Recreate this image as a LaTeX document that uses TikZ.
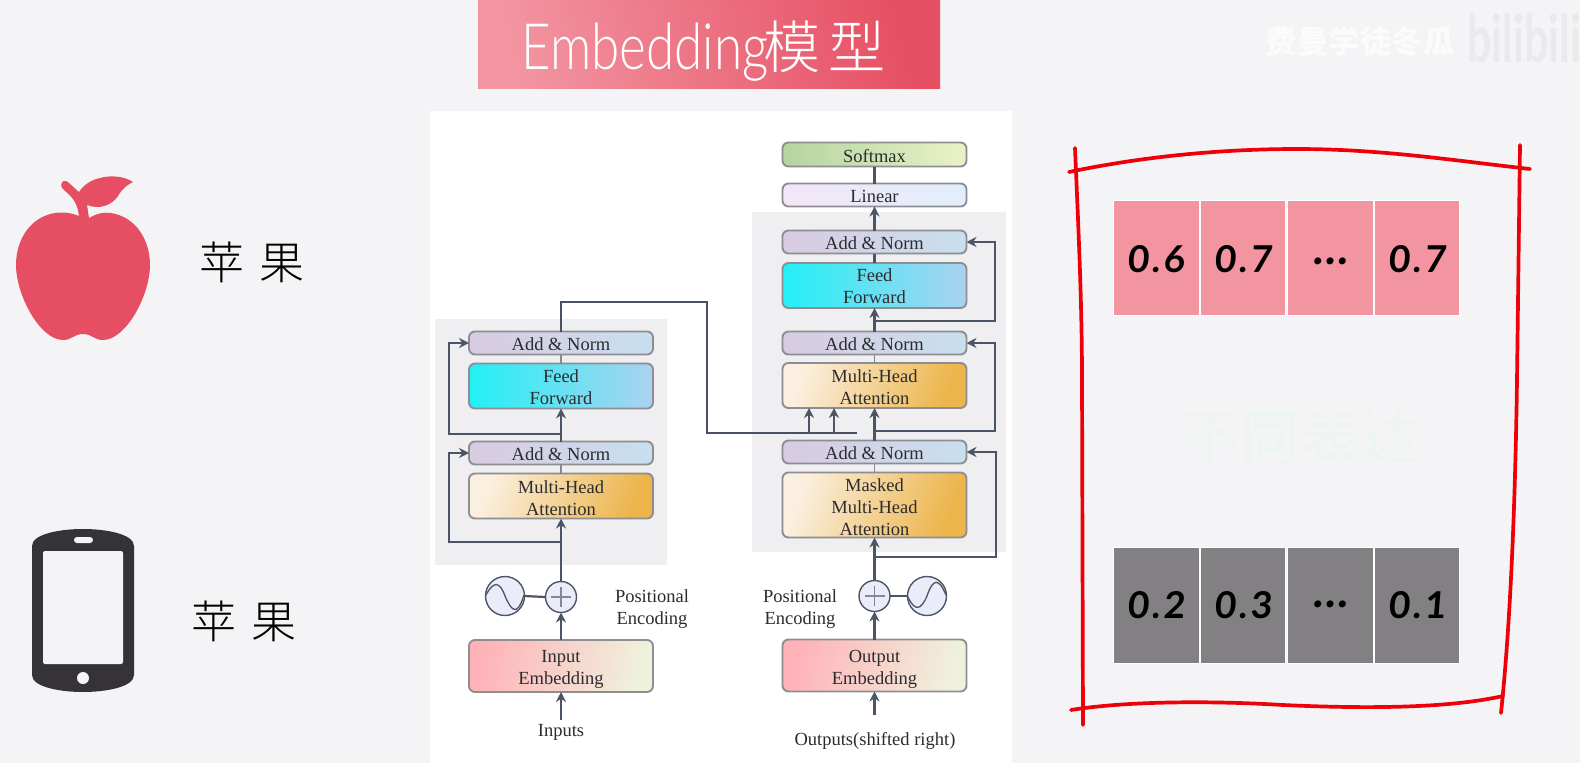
\documentclass[tikz,border=0pt]{standalone}
\usepackage{fontspec}
\usetikzlibrary{arrows.meta,calc}
\setmainfont{Liberation Serif}
\newfontfamily\cjk{Noto Sans CJK SC}
\newfontfamily\cjklight{Noto Sans CJK SC}[UprightFont=* Light]
\newfontfamily\ttlfont{Lato}[UprightFont=* Light,FakeStretch=0.8]
\newfontfamily\wmfont{Lato}[FakeStretch=0.65]
\newfontfamily\hand{Lato}[FakeSlant=0.08,LetterSpace=8]
\definecolor{bg}{HTML}{F4F3F6}
\definecolor{panel}{HTML}{EFEFF1}
\definecolor{edge}{HTML}{8E8E92}
\definecolor{slate}{HTML}{4C5566}
\definecolor{ink}{HTML}{2C2C30}
\definecolor{redline}{HTML}{EE0008}
\definecolor{applered}{HTML}{E64F63}
\definecolor{phone}{HTML}{353336}
\definecolor{pinkcell}{HTML}{F295A1}
\definecolor{greycell}{HTML}{828083}
\definecolor{ANa}{HTML}{D9CBE2}\definecolor{ANb}{HTML}{C8DFEE}
\definecolor{FFa}{HTML}{22F0F5}\definecolor{FFb}{HTML}{A8E4F3}\definecolor{FFc}{HTML}{ABD2F0}
\definecolor{ATa}{HTML}{FBF0E0}\definecolor{ATm}{HTML}{F6DFB8}\definecolor{ATb}{HTML}{ECB44A}
\definecolor{EMa}{HTML}{FFB3B8}\definecolor{EMb}{HTML}{EFF1DC}
\definecolor{RDf}{HTML}{EBECFA}
\definecolor{SMa}{HTML}{B4D4A0}\definecolor{SMb}{HTML}{E9F2C7}
\definecolor{LNa}{HTML}{F3E6F8}\definecolor{LNb}{HTML}{E1EEFB}
\definecolor{TTm}{HTML}{ED7F90}
\definecolor{wmgreen}{HTML}{EDF5EF}
\tikzset{
  x=1pt,y=-1pt,
  box/.style={draw=edge,line width=1.9pt,rounded corners=6pt,minimum width=184pt,inner sep=0pt,outer sep=0pt,
    align=center,text=ink,font=\fontsize{18.5}{22}\selectfont},
  an/.style={box,minimum height=23pt,left color=ANa,right color=ANb},
  ff/.style={box,minimum height=45pt,left color=FFa,middle color=FFb,right color=FFc},
  att/.style={box,left color=ATa,middle color=ATm,right color=ATb,shading angle=70},
  emb/.style={box,minimum height=52pt,left color=EMa,right color=EMb,shading angle=75},
  lab/.style={text=ink,align=center,inner sep=0pt,font=\fontsize{18.5}{22}\selectfont},
  arr/.style={draw=slate,line width=2.2pt,-{Stealth[length=10pt,width=10pt]}},
  plainln/.style={draw=slate,line width=2.2pt},
  thinln/.style={draw=slate!70!white,line width=1.2pt},
  linkln/.style={draw=slate!95!black,line width=1.4pt},
  rnd/.style={circle,draw=slate,line width=1.4pt,fill=RDf,inner sep=0pt,outer sep=0pt},
  red/.style={draw=redline,line width=3.7pt,line cap=round},
  cell/.style={minimum height=115.5pt,draw=white,line width=1pt,inner sep=0pt,outer sep=0pt,text=black,
    font=\hand\bfseries\fontsize{37}{37}\selectfont},
  cjkbig/.style={inner sep=0pt,text=black,font=\cjklight\fontsize{45}{45}\selectfont},
}
\newcommand\digbox[2]{\raisebox{-#1pt}[0pt][0pt]{#2}}
\newcommand\elldots{\fontsize{46}{46}\selectfont …}
\newcommand\tp[1]{\rule{0pt}{#1pt}}
\begin{document}
\begin{tikzpicture}
\useasboundingbox (0,0) rectangle (1580,763);
\fill[bg] (0,0) rectangle (1580,763);
% title
\node[minimum width=462pt,minimum height=88pt,inner sep=0pt,left color=pinkcell,middle color=TTm,right color=applered,shading angle=105,anchor=north west] (title) at (478,0) {};
\node[anchor=base west,inner sep=0pt,text=white,font=\ttlfont\fontsize{64}{64}\selectfont] (ttl1) at (521,69) {Embedding};
\node[anchor=base west,inner sep=0pt,text=white,font=\cjklight\fontsize{57}{57}\selectfont] (ttl2) at (763,68) {模\hspace{8pt}型};
% watermarks
\node[inner sep=0pt,text=white!70!bg,font=\cjk\bfseries\fontsize{31.5}{32}\selectfont] (wm1) at (1360,42) {费曼学徒冬瓜};
\node[anchor=west,inner sep=0pt,text=black!4!bg,font=\wmfont\bfseries\fontsize{66}{66}\selectfont] (wm2) at (1467,38) {bilibili};
\node[inner sep=0pt,text=wmgreen,font=\cjk\fontsize{60}{60}\selectfont] (wm3) at (1300,437) {不同表达};
% apple
\fill[applered] (83,218) .. controls (72,212) and (62,212) .. (55,213)
  .. controls (30,217) and (16,240) .. (16,265)
  .. controls (16,295) and (40,340) .. (63,340)
  .. controls (72,340) and (74,334) .. (83,334)
  .. controls (92,334) and (94,340) .. (103,340)
  .. controls (126,340) and (150,295) .. (150,265)
  .. controls (150,240) and (136,217) .. (111,213)
  .. controls (104,212) and (98,213) .. (89,218)
  -- (87,205) .. controls (100,210) and (112,205) .. (118,196)
  .. controls (122,189) and (127,185) .. (133,182)
  .. controls (124,176) and (110,175) .. (100,178)
  .. controls (90,180) and (83,186) .. (79,192)
  .. controls (74,188) and (70,183) .. (66,181)
  .. controls (62,180) and (60,185) .. (62,188)
  .. controls (70,196) and (78,200) .. (79,218) -- cycle;
\node[cjkbig] (apt) at (252,262) {苹\hspace{15pt}果};
% phone
\fill[phone] (32,546) .. controls (32,534) and (60,529) .. (83,529) .. controls (106,529) and (134,534) .. (134,546)
  -- (134,675) .. controls (134,687) and (106,692) .. (83,692) .. controls (60,692) and (32,687) .. (32,675) -- cycle;
\fill[bg,rounded corners=2pt] (43,551) rectangle (123,664);
\fill[bg,rounded corners=3pt] (74,537) rectangle (93,543);
\fill[bg] (83,678) circle (6);
\node[cjkbig] (pht) at (244,621) {苹\hspace{15pt}果};
% diagram background
\fill[white] (430,111) rectangle (1012,763);
\fill[panel] (435,319) rectangle (667,565);
\fill[panel] (752,212) rectangle (1006,552);
% left column
\node[an] (lan2) at (561,343) {\tp{15}Add \& Norm};
\node[ff] (lff) at (561,386) {\tp{15}Feed\\Forward};
\node[an] (lan1) at (561,453) {\tp{15}Add \& Norm};
\node[att,minimum height=45pt] (lmh) at (561,496) {\tp{17}Multi-Head\\Attention};
\node[emb] (lem) at (561,666) {\tp{19}Input\\Embedding};
\node[rnd,minimum size=31pt] (lpl) at (561,597) {};
\node[rnd,minimum size=39pt] (lsn) at (505,596) {};
\node[lab] (lpe) at (652,609) {Positional\\Encoding};
\node[lab] (lin) at (561,732) {Inputs};
\coordinate (linb) at (561,720);
% right column
\node[box,minimum height=24pt,left color=SMa,right color=SMb] (soft) at (874.5,154.5) {\tp{16}Softmax};
\node[box,minimum height=23pt,left color=LNa,right color=LNb] (lin2) at (874.5,195) {\tp{15}Linear};
\node[an] (ran3) at (874.5,242) {\tp{15}Add \& Norm};
\node[ff] (rff) at (874.5,285.5) {\tp{15}Feed\\Forward};
\node[an] (ran2) at (874.5,343) {\tp{15}Add \& Norm};
\node[att,minimum height=45pt] (rmh) at (874.5,385.5) {\tp{17}Multi-Head\\Attention};
\node[an] (ran1) at (874.5,452) {\tp{15}Add \& Norm};
\node[att,minimum height=65pt] (rmm) at (874.5,505) {\tp{17}Masked\\Multi-Head\\Attention};
\node[emb] (rem) at (874.5,665.5) {\tp{19}Output\\Embedding};
\node[rnd,minimum size=31pt] (rpl) at (874.5,596) {};
\node[rnd,minimum size=39pt] (rsn) at (927,596) {};
\node[lab] (rpe) at (800,609) {Positional\\Encoding};
\node[lab] (rou) at (875,741) {Outputs(shifted right)};
\coordinate (rinb) at (874.5,715);
% plus signs and sines
\draw[thinln] ($(lpl)+(0,-10)$) -- ($(lpl)+(0,10)$) ($(lpl)+(-10,0)$) -- ($(lpl)+(10,0)$);
\draw[thinln] ($(rpl)+(0,-10)$) -- ($(rpl)+(0,10)$) ($(rpl)+(-10,0)$) -- ($(rpl)+(10,0)$);
\draw[slate,line width=1.3pt] ($(lsn)+(-19,-1)$) .. controls ($(lsn)+(-11,-16)$) and ($(lsn)+(-5,-14)$) .. ($(lsn)$) .. controls ($(lsn)+(6,14)$) and ($(lsn)+(12,22)$) .. ($(lsn)+(19,-1)$);
\draw[slate,line width=1.3pt] ($(rsn)+(-19,1)$) .. controls ($(rsn)+(-12,16)$) and ($(rsn)+(-6,14)$) .. ($(rsn)$) .. controls ($(rsn)+(6,-18)$) and ($(rsn)+(12,-18)$) .. ($(rsn)+(19,-1)$);
% left connectors
\draw[arr] (linb) -- (lem.south);
\draw[arr] (lem.north) -- (lpl.south);
\draw[plainln] (lsn.east) -- (lpl.west);
\coordinate (ltap1) at (561,542);
\coordinate (ltap2) at (561,434);
\coordinate (lrail1) at (449,542);
\coordinate (lrail2) at (449,434);
\draw[arr] (lpl.north) -- (lmh.south);
\draw[arr] (ltap1) -- (lrail1) |- (lan1.west);
\draw[thinln] (lmh.north) -- (lan1.south);
\draw[arr] (lan1.north) -- (lff.south);
\draw[arr] (ltap2) -- (lrail2) |- (lan2.west);
\draw[thinln] (lff.north) -- (lan2.south);
% right connectors
\draw[arr] (rinb) -- (rem.south);
\draw[arr] (rem.north) -- (rpl.south);
\draw[plainln] (rsn.west) -- (rpl.east);
\coordinate (rtap1) at (874.5,557);
\coordinate (rrail1) at (996,557);
\coordinate (rtap2) at (874.5,431);
\coordinate (rrail2) at (995,431);
\coordinate (rtap3) at (874.5,321);
\coordinate (rrail3) at (995,321);
\draw[arr] (rpl.north) -- (rmm.south);
\draw[arr] (rtap1) -- (rrail1) |- (ran1.east);
\draw[thinln] (rmm.north) -- (ran1.south);
\draw[arr] (ran1.north) -- (rmh.south);
\draw[arr] (rtap2) -- (rrail2) |- (ran2.east);
\draw[thinln] (rmh.north) -- (ran2.south);
\draw[arr] (ran2.north) -- (rff.south);
\draw[arr] (rtap3) -- (rrail3) |- (ran3.east);
\draw[plainln] (rff.north) -- (ran3.south);
\draw[arr] (ran3.north) -- (lin2.south);
\draw[plainln] (lin2.north) -- (soft.south);
% encoder to decoder link
\coordinate (lk1) at (561,302);
\coordinate (lk2) at (707,302);
\coordinate (lk3) at (707,433);
\coordinate (lk4) at (857,433);
\coordinate (lka) at (809,433);
\coordinate (lkb) at (834,433);
\draw[linkln] (lan2.north) -- (lk1) -- (lk2) -- (lk3) -- (lk4);
\draw[arr] (lka) -- (lka |- rmh.south);
\draw[arr] (lkb) -- (lkb |- rmh.south);
% vectors
\foreach \n/\cx/\w/\t/\o in {a/1156/86/0.6/14,b/1243/85/0.7/14,c/1330/86/\elldots/6,d/1417/85.5/0.7/14}
  \node[cell,fill=pinkcell,minimum width=\w pt] (p\n) at (\cx,258) {\digbox{\o}{\t}};
\foreach \n/\cx/\w/\t/\o in {a/1156/86/0.2/13,b/1243/85/0.3/13,c/1330/86/\elldots/2,d/1417/85.5/0.1/13}
  \node[cell,fill=greycell,minimum width=\w pt] (g\n) at (\cx,605.5) {\digbox{\o}{\t}};
% red frame
\draw[red] (1075,148) .. controls (1078,220) and (1082,300) .. (1082,380) -- (1083,725);
\draw[red] (1520,145) -- (1517,380) .. controls (1516,450) and (1513,600) .. (1501,713);
\draw[red] (1069,172) .. controls (1150,155) and (1230,149) .. (1297,149) .. controls (1380,149) and (1450,160) .. (1530,169);
\draw[red] (1071,710) .. controls (1120,702) and (1200,700) .. (1283,705) .. controls (1370,709) and (1450,708) .. (1503,696);
\end{tikzpicture}
\end{document}
